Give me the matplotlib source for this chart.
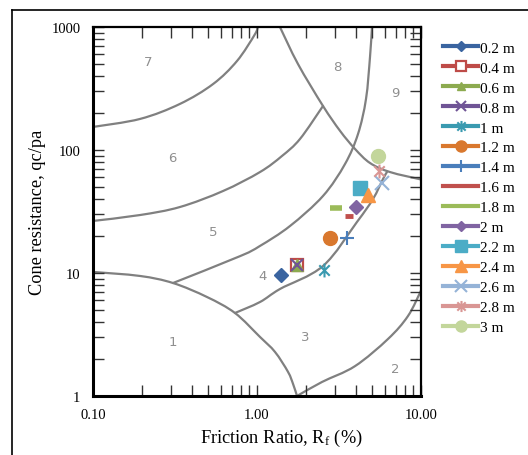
import matplotlib
matplotlib.use("Agg")
import numpy as np
import matplotlib.pyplot as plt
from matplotlib.path import Path
from matplotlib.patches import PathPatch
from matplotlib.lines import Line2D

# ---------------- data ----------------
depth_labels = ["0.2 m", "0.4 m", "0.6 m", "0.8 m", "1 m", "1.2 m", "1.4 m", "1.6 m",
                "1.8 m", "2 m", "2.2 m", "2.4 m", "2.6 m", "2.8 m", "3 m"]
friction_ratio = [1.40, 1.75, 1.75, 1.75, 2.56, 2.79, 3.54, 3.64, 3.03, 4.02, 4.25, 4.75, 5.78, 5.54, 5.47]
cone_resistance = [9.6, 11.6, 11.6, 11.6, 10.6, 19.3, 19.3, 29.0, 33.8, 34.4, 49.0, 43.0, 54.0, 67.5, 89.0]

# zone boundary curves (Rf %, qc/pa)
b1_rf = [0.1, 0.1935, 0.3075, 0.4955, 0.734, 1.043, 1.288, 1.546, 1.66, 1.754]
b1_qc = [10.2, 9.46, 8.29, 6.38, 4.73, 3.02, 2.28, 1.57, 1.25, 1.0]
b2_rf = [1.754, 2.49, 3.96, 6.295, 8.33, 10.0]
b2_qc = [1.0, 1.30, 1.75, 2.91, 4.47, 7.2]
b3_rf = [0.734, 1.043, 1.38, 2.526, 4.07, 5.10, 5.865, 6.20]
b3_qc = [4.73, 5.81, 7.41, 11.4, 26.0, 40.0, 58.1, 66.2]
b4_rf = [0.3075, 0.787, 1.043, 1.589, 2.526, 3.44, 4.13, 4.62, 4.887, 5.026]
b4_qc = [8.29, 13.7, 16.6, 24.1, 42.3, 76.9, 135, 260, 570, 1000]
b5_rf = [0.1, 0.1935, 0.339, 0.6205, 1.043, 1.42, 1.829, 2.526]
b5_qc = [26.5, 29.6, 34.4, 46.4, 66.2, 89.4, 123, 228]
b6_rf = [1.38, 1.778, 2.526, 3.21, 3.96, 4.887, 6.47, 10.0]
b6_qc = [1000, 500, 228, 143, 102, 78.4, 66.2, 57.6]
b7_rf = [0.1, 0.194, 0.339, 0.54, 0.755, 0.97, 1.01]
b7_qc = [154, 179, 237, 344, 529, 870, 1000]

zone_names = ["1", "2", "3", "4", "5", "6", "7", "8", "9"]
zone_rf = [0.3075, 6.94, 1.96, 1.075, 0.539, 0.303, 0.216, 3.07, 6.94]
zone_qc = [2.75, 1.66, 3.02, 9.46, 21.9, 87.7, 529, 473, 296]

x_ticks = [0.1, 1, 10]
x_ticklabels = ["0.10", "1.00", "10.00"]
y_ticks = [1, 10, 100, 1000]
y_ticklabels = ["1", "10", "100", "1000"]

# ---------------- style ----------------
plt.rcParams["font.family"] = ["Liberation Serif", "DejaVu Serif"]
plt.rcParams["mathtext.fontset"] = "stix"

W, H = 528, 456
fig = plt.figure(figsize=(W / 100, H / 100), dpi=100)
ax = fig.add_axes([93 / W, 1 - 397 / H, (421 - 93) / W, (397 - 28) / H])
ax.set_xscale("log")
ax.set_yscale("log")
ax.set_xlim(0.1, 10)
ax.set_ylim(1, 1000)


def smooth_path(xs, ys):
    """Catmull-Rom through the points (in log space) as cubic Bezier segments."""
    p = np.column_stack([np.log10(xs), np.log10(ys)])
    n = len(p)
    verts = [p[0]]
    codes = [Path.MOVETO]
    for i in range(n - 1):
        p0 = p[i - 1] if i > 0 else p[i]
        p1, p2 = p[i], p[i + 1]
        p3 = p[i + 2] if i + 2 < n else p[i + 1]
        c1 = p1 + (p2 - p0) / 6.0
        c2 = p2 - (p3 - p1) / 6.0
        verts += [c1, c2, p2]
        codes += [Path.CURVE4] * 3
    verts = 10 ** np.array(verts)
    return Path(verts, codes)


curve_color = "#808080"
for rf, qc in [(b1_rf, b1_qc), (b2_rf, b2_qc), (b3_rf, b3_qc), (b4_rf, b4_qc),
               (b5_rf, b5_qc), (b6_rf, b6_qc), (b7_rf, b7_qc)]:
    ax.add_patch(PathPatch(smooth_path(rf, qc), facecolor="none", edgecolor=curve_color,
                           lw=1.6, zorder=1, capstyle="round"))

for name, rf, qc in zip(zone_names, zone_rf, zone_qc):
    ax.text(rf, qc, name, color="#8f8f8f", fontsize=9.5, family="DejaVu Sans",
            ha="center", va="center", zorder=1)

# asterisk marker: vertical bar + X
ast = Path([(0, -1), (0, 1), (-0.75, -0.75), (0.75, 0.75), (-0.75, 0.75), (0.75, -0.75)],
           [Path.MOVETO, Path.LINETO, Path.MOVETO, Path.LINETO, Path.MOVETO, Path.LINETO])

colors = ["#3A64A0", "#BE4B48", "#8CAA4F", "#6F5495", "#3A9AB0", "#D9782E",
          "#4A7EBB", "#C0504D", "#9BBB59", "#8064A2", "#4BACC6", "#F79646",
          "#95B3D7", "#D99694", "#C3D69B"]
markers = ["D", "s", "^", "x", ast, "o", "+", "_", "_", "D", "s", "^", "x", ast, "o"]
msizes = [7, 9, 8, 9, 10, 10, 10, 6, 9, 7, 10, 10, 10, 10, 10]
mews = [1, 1.6, 1, 1.5, 1.5, 1, 1.5, 3.5, 4, 1, 1, 1, 1.5, 1.5, 1]

for i, lab in enumerate(depth_labels):
    mfc = "white" if i == 1 else colors[i]
    ax.plot([friction_ratio[i]], [cone_resistance[i]], linestyle="-", lw=3,
            color=colors[i], marker=markers[i], markersize=msizes[i],
            markerfacecolor=mfc, markeredgecolor=colors[i],
            markeredgewidth=mews[i], label=lab, zorder=3)

ax.set_xticks(x_ticks)
ax.set_xticklabels(x_ticklabels)
ax.set_yticks(y_ticks)
ax.set_yticklabels(y_ticklabels)
ax.tick_params(which="both", direction="in", top=True, right=True,
               length=8, width=1, color="#333333", labelsize=10.5, pad=9)
ax.tick_params(which="minor", labelleft=False, labelbottom=False)
for side in ["left", "bottom"]:
    ax.spines[side].set_linewidth(2.2)
for side in ["top", "right"]:
    ax.spines[side].set_linewidth(1.6)
for s in ax.spines.values():
    s.set_color("black")

ax.set_xlabel(r"Friction Ratio, R$_{\mathregular{f}}$ (%)", fontsize=13.2)
ax.xaxis.set_label_coords((281 - 93) / 328, -0.085)
ax.set_ylabel("Cone resistance, qc/pa", fontsize=13.2, labelpad=4)

leg_handles = []
for i, lab in enumerate(depth_labels):
    mfc = "white" if i == 1 else colors[i]
    is_dash = i in (7, 8)
    leg_handles.append(Line2D([], [], color=colors[i], lw=3, marker=markers[i],
                              markersize=0 if is_dash else msizes[i] * 0.8,
                              markerfacecolor=mfc, markeredgecolor=colors[i],
                              markeredgewidth=0 if is_dash else mews[i]))
fig.legend(leg_handles, depth_labels, loc="upper left",
           bbox_to_anchor=(443 / W, 1 - 42 / H), frameon=False, fontsize=11,
           handlelength=2.3, handletextpad=0.12, labelspacing=0.41, borderpad=0,
           borderaxespad=0)

# outer frame
fig.add_artist(Line2D([12 / W, 12 / W], [0, 1 - 11 / H], transform=fig.transFigure,
                      color="black", lw=1.2))
fig.add_artist(Line2D([12 / W, 1], [1 - 11 / H, 1 - 11 / H], transform=fig.transFigure,
                      color="black", lw=1.2))

fig.savefig("out.png", dpi=100)
